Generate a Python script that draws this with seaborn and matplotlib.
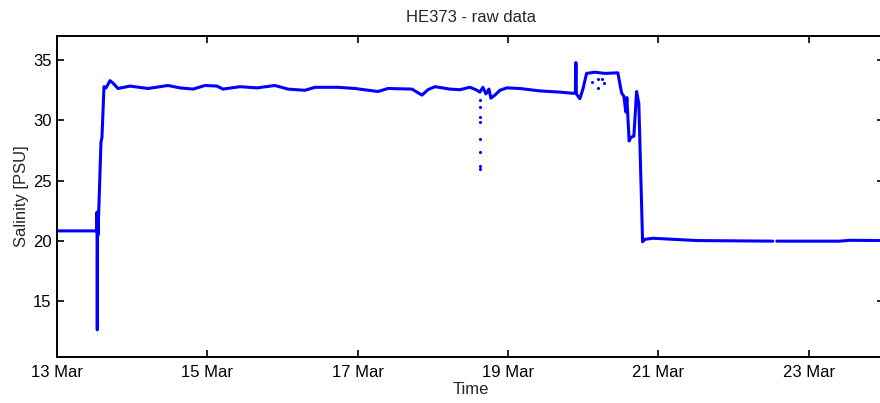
import numpy as np
import pandas as pd
import matplotlib
matplotlib.use("Agg")
import matplotlib.pyplot as plt
import matplotlib.dates as mdates
import seaborn as sns

# temps en jours apres le 13 mars 00:00, salinite en PSU
days = [0.0, 0.529, 0.532, 0.536, 0.540, 0.545, 0.585, 0.598, 0.625, 0.652,
        0.705, 0.745, 0.811, 0.971, 1.210, 1.476, 1.636, 1.809, 1.968, 2.128,
        2.207, 2.434, 2.660, 2.899, 3.072, 3.298, 3.431, 3.737, 3.963, 4.269,
        4.402, 4.721, 4.854, 4.934, 5.027, 5.226, 5.359, 5.492, 5.572, 5.625,
        5.665, 5.705, 5.745, 5.771, 5.824, 5.891, 5.984, 6.157, 6.423, 6.689,
        6.862, 6.895, 6.902, 6.908, 6.955, 6.995, 7.044, 7.154, 7.287, 7.460,
        7.509, 7.540, 7.566, 7.580, 7.610, 7.633, 7.673, 7.709, 7.739, 7.789,
        7.819, 7.926, 8.511, 9.521, 9.540, 9.574, 10.412, 10.545, 11.0]
salinity = [20.85, 20.85, 22.4, 12.65, 22.0, 20.5, 28.2, 28.6, 32.8, 32.7,
            33.3, 33.1, 32.65, 32.85, 32.65, 32.9, 32.7, 32.6, 32.9, 32.85,
            32.6, 32.8, 32.7, 32.9, 32.6, 32.5, 32.75, 32.75, 32.65, 32.4,
            32.65, 32.6, 32.1, 32.55, 32.8, 32.6, 32.55, 32.75, 32.55, 32.35,
            32.75, 32.2, 32.6, 31.85, 32.1, 32.5, 32.7, 32.65, 32.45, 32.35,
            32.25, 32.3, 34.8, 32.2, 31.8, 32.6, 33.9, 34.0, 33.9, 33.95,
            32.3, 32.0, 30.7, 31.9, 28.3, 28.6, 28.7, 32.4, 31.4, 19.95,
            20.15, 20.24, 20.05, 20.0, np.nan, 20.0, 20.0, 20.07, 20.05]

# points isoles (mesures aberrantes)
dot_days = [5.625, 5.625, 5.625, 5.625, 5.625, 5.625, 5.625, 5.625,
            7.114, 7.194, 7.247, 7.274, 7.194]
dot_sal = [31.7, 31.1, 30.3, 29.9, 28.5, 27.4, 26.2, 26.0,
           33.15, 33.4, 33.4, 33.07, 32.66]

start = pd.Timestamp("2013-03-13")
df = pd.DataFrame({"time": start + pd.to_timedelta(days, unit="D"), "sal": salinity})
df_dots = pd.DataFrame({"time": start + pd.to_timedelta(dot_days, unit="D"), "sal": dot_sal})

# coupe la serie aux trous (NaN) pour garder la lacune visible
df["seg"] = df["sal"].isna().cumsum()
df = df.dropna()

sns.set_style("ticks")
plt.rcParams["font.family"] = ["Liberation Sans", "DejaVu Sans"]
plt.rcParams["font.size"] = 12

fig = plt.figure(figsize=(8.8, 4.03), dpi=100)
ax = fig.add_axes([57 / 880, 1 - 357 / 403, 827 / 880, 321 / 403])

for seg, part in df.groupby("seg"):
    sns.lineplot(data=part, x="time", y="sal", color="#0000ff", linewidth=2.2,
                 sort=False, ax=ax)
sns.scatterplot(data=df_dots, x="time", y="sal", color="#0000ff", s=5, linewidth=0, ax=ax)

ax.set_xlim(start, start + pd.Timedelta(days=11))
ax.set_ylim(10.4, 37)
ax.set_yticks([15, 20, 25, 30, 35])
ax.xaxis.set_major_locator(mdates.DayLocator(bymonthday=[13, 15, 17, 19, 21, 23]))
ax.xaxis.set_major_formatter(mdates.DateFormatter("%d %b"))

ax.tick_params(direction="in", length=5, width=1.2, top=True, right=True,
               labelsize=12, colors="black")
ax.tick_params(axis="x", pad=6)
ax.tick_params(axis="y", pad=4)
for s in ax.spines.values():
    s.set_linewidth(1.4)
    s.set_color("black")

ax.set_title("HE373 - raw data", fontsize=12, pad=10)
ax.set_xlabel("Time", fontsize=12, labelpad=1)
ax.set_ylabel("Salinity [PSU]", fontsize=12, labelpad=3)

fig.savefig("out.png", dpi=100)
